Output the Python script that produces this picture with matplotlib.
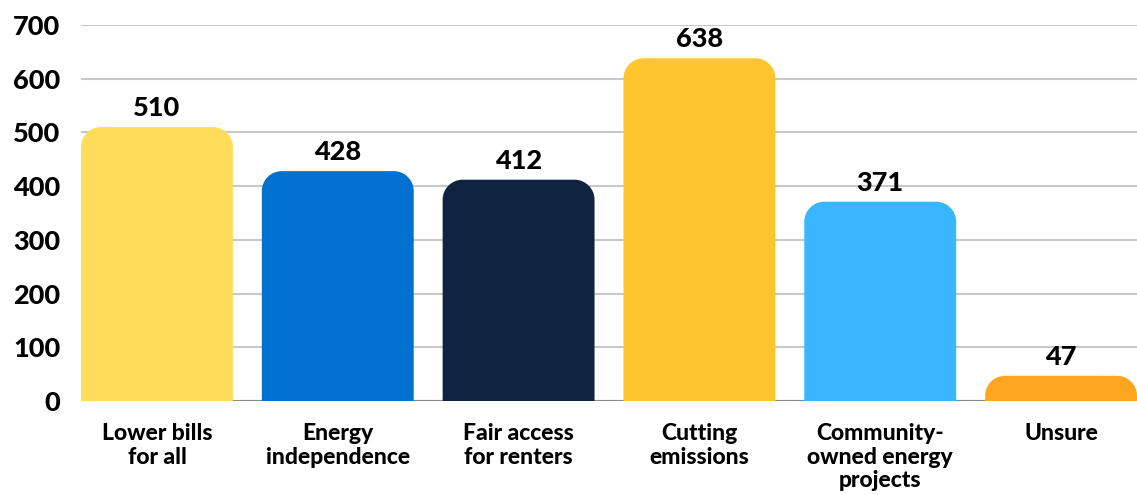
import numpy as np
import matplotlib.pyplot as plt
from matplotlib.path import Path
from matplotlib.patches import PathPatch

categories = ["Lower bills\nfor all", "Energy\nindependence", "Fair access\nfor renters",
              "Cutting\nemissions", "Community-\nowned energy\nprojects", "Unsure"]
values = [510, 428, 412, 638, 371, 47]
colors = ["#FFDC5A", "#0071CE", "#0F2440", "#FFC52E", "#38B6FF", "#FFA51F"]
yticks = [0, 100, 200, 300, 400, 500, 600, 700]

plt.rcParams['font.family'] = ['Lato', 'DejaVu Sans']

W, H = 1137, 495
fig = plt.figure(figsize=(W / 100, H / 100), dpi=100)
ax = fig.add_axes([81 / W, 1 - 401 / H, (W - 81) / W, (401 - 25) / H])

x = np.arange(len(categories))
width = 0.84
ax.set_xlim(-0.42, len(categories) - 1 + 0.42)
ax.set_ylim(0, 700)

ax.set_yticks(yticks)
ax.set_yticklabels([str(t) for t in yticks])
ax.grid(axis="y", color="#C8C8C8", linewidth=1.5)
ax.set_axisbelow(True)
for s in ax.spines.values():
    s.set_visible(False)
ax.axhline(0, color="#8A8A8A", linewidth=1.5, zorder=1)

ax.set_xticks(x)
ax.set_xticklabels(categories, fontsize=16.5, fontweight=900, linespacing=1.14, va="top")
ax.tick_params(axis="x", length=0, pad=16)
ax.tick_params(axis="y", length=0, pad=15, labelsize=19.5)
for lab in ax.get_yticklabels():
    lab.set_fontweight(900)

# radius of the rounded top corners in pixels -> data units
r_px = 20
bbox = ax.get_window_extent()
rx = r_px * (ax.get_xlim()[1] - ax.get_xlim()[0]) / bbox.width
ry = r_px * (ax.get_ylim()[1] - ax.get_ylim()[0]) / bbox.height
k = 0.5523

for xi, v, c in zip(x, values, colors):
    x0, x1 = xi - width / 2, xi + width / 2
    ryy = min(ry, v)
    verts = [
        (x0, 0), (x0, v - ryy),
        (x0, v - ryy + k * ryy), (x0 + rx - k * rx, v), (x0 + rx, v),
        (x1 - rx, v),
        (x1 - rx + k * rx, v), (x1, v - ryy + k * ryy), (x1, v - ryy),
        (x1, 0), (x0, 0),
    ]
    codes = [Path.MOVETO, Path.LINETO,
             Path.CURVE4, Path.CURVE4, Path.CURVE4,
             Path.LINETO,
             Path.CURVE4, Path.CURVE4, Path.CURVE4,
             Path.LINETO, Path.CLOSEPOLY]
    ax.add_patch(PathPatch(Path(verts, codes), facecolor=c, edgecolor="none", zorder=2,
                           clip_on=False))
    ax.annotate(str(v), (xi, v), xytext=(0, 5), textcoords="offset points",
                ha="center", va="bottom", fontsize=19.5, fontweight=900)

fig.savefig("out.png", dpi=100)
